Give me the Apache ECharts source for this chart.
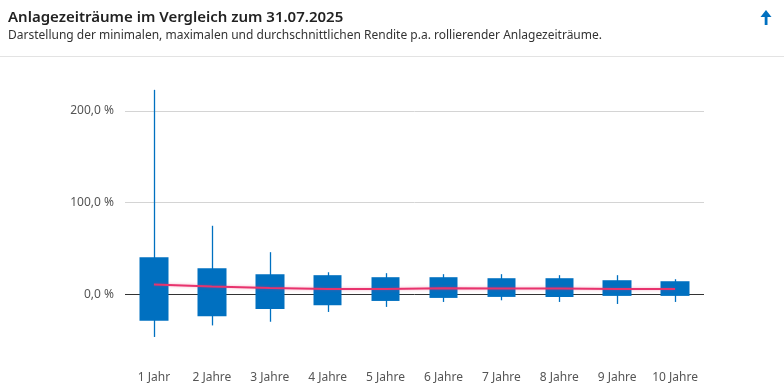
<!DOCTYPE html>
<html><head><meta charset="utf-8">
<script src="https://cdn.jsdelivr.net/npm/echarts@6/dist/echarts.min.js"></script>
<style>html,body{margin:0;padding:0;background:#fff}#c{width:784px;height:390px}</style>
</head><body><div id="c"></div>
<script>
const categories = ['1 Jahr','2 Jahre','3 Jahre','4 Jahre','5 Jahre','6 Jahre','7 Jahre','8 Jahre','9 Jahre','10 Jahre'];
const boxLow  = [-29.0, -24.0, -16.0, -12.0, -7.3, -4.0, -2.9, -3.0, -1.8, -1.8];
const boxHigh = [40.4, 28.4, 21.9, 20.8, 18.6, 18.6, 17.5, 17.5, 15.3, 14.2];
const minVal  = [-46.6, -34.0, -30.0, -19.3, -13.8, -8.4, -6.6, -8.4, -10.6, -8.4];
const maxVal  = [223.0, 74.7, 45.9, 24.0, 23.0, 21.9, 21.9, 20.8, 20.8, 16.4];
const avgVal  = [10.6, 8.4, 6.9, 5.8, 5.8, 6.6, 6.2, 6.2, 5.8, 5.8];
const yTicks  = [0, 100, 200];

const font = '"Noto Sans", "Open Sans", sans-serif';
const chart = echarts.init(document.getElementById('c'));
const box = categories.map((c, i) => [boxLow[i], boxHigh[i], boxLow[i], boxHigh[i]]);
const whisker = categories.map((c, i) => [i, minVal[i], maxVal[i]]);
const blue = '#0070c0';
const st = { color: blue, color0: blue, borderColor: blue, borderColor0: blue, borderColorDoji: blue, borderWidth: 0 };
chart.setOption({
  animation: false,
  textStyle: { fontFamily: font },
  title: {
    text: 'Anlagezeiträume im Vergleich zum 31.07.2025',
    subtext: 'Darstellung der minimalen, maximalen und durchschnittlichen Rendite p.a. rollierender Anlagezeiträume.',
    left: 3, top: 5, itemGap: 5,
    textStyle: { fontFamily: font, fontSize: 15, fontWeight: 600, color: '#222' },
    subtextStyle: { fontFamily: font, fontSize: 12, color: '#333' }
  },
  graphic: [
    { type: 'line', shape: { x1: 0, y1: 56.5, x2: 784, y2: 56.5 }, style: { stroke: '#e3e3e3', lineWidth: 1 } },
    { type: 'polygon', shape: { points: [[766, 10], [771.5, 17], [760.5, 17]] }, style: { fill: blue } },
    { type: 'rect', shape: { x: 764.7, y: 15, width: 2.8, height: 10 }, style: { fill: blue } }
  ],
  grid: { left: 125, right: 80, top: 88, bottom: 27 },
  xAxis: {
    type: 'category', data: categories,
    axisLine: { show: false }, axisTick: { show: false },
    axisLabel: { interval: 0, color: '#555', fontSize: 12, margin: 9, fontFamily: font }
  },
  yAxis: {
    type: 'value', min: -75, max: 225,
    axisLine: { show: false },
    axisTick: { show: false, customValues: yTicks },
    axisLabel: { customValues: yTicks, color: '#555', fontSize: 12, margin: 11, fontFamily: font,
      formatter: v => v.toFixed(1).replace('.', ',') + ' %' },
    splitLine: { show: true, lineStyle: { color: ['#333333', '#d4d4d4', '#d4d4d4'], width: 1 } }
  },
  series: [
    {
      type: 'custom', data: whisker, clip: false,
      renderItem: (params, api) => {
        const lo = api.coord([api.value(0), api.value(1)]);
        const hi = api.coord([api.value(0), api.value(2)]);
        const x = Math.round(lo[0]) + 0.5;
        return { type: 'line', shape: { x1: x, y1: lo[1], x2: x, y2: hi[1] },
          style: { stroke: blue, lineWidth: 1.3 } };
      }
    },
    {
      type: 'candlestick', data: box, barWidth: 29, clip: false, itemStyle: st
    },
    {
      type: 'line', data: avgVal, symbol: 'none', smooth: false,
      lineStyle: { color: '#e8336d', width: 2, shadowColor: 'rgba(232,51,109,0.4)', shadowBlur: 3 }
    }
  ]
});
</script></body></html>
